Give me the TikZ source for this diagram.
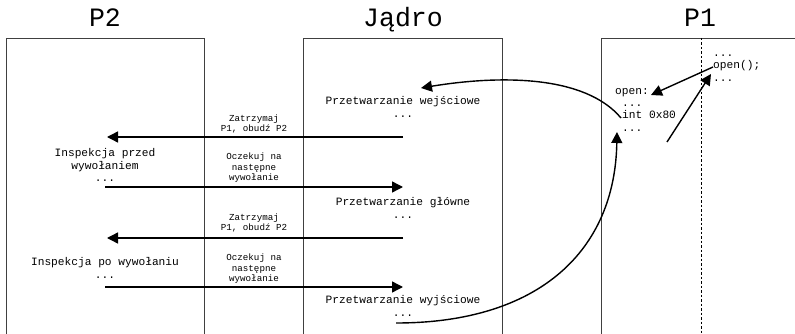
\documentclass[tikz,border=0pt]{standalone}
\usepackage{fontspec}
\setmonofont{Liberation Mono}
\usetikzlibrary{arrows.meta}

\begin{document}
\begin{tikzpicture}[x=1pt,y=-1pt]
  \tikzstyle{lane}=[draw=black!75, line width=0.9pt]
  \tikzstyle{title}=[font=\ttfamily\fontsize{26.5}{30}\selectfont, anchor=base, inner sep=0pt]
  \tikzstyle{code}=[font=\ttfamily\fontsize{11.2}{12.7}\selectfont, align=center, inner sep=0pt]
  \tikzstyle{note}=[font=\ttfamily\fontsize{9.2}{10.6}\selectfont, align=center, inner sep=0pt]
  \tikzstyle{flow}=[line width=1.4pt, -{Triangle[length=11pt,width=11pt]}]
  \useasboundingbox (0,0) rectangle (795,334);

  % columns
  \draw[lane] (6,334) -- (6,38) -- (204,38) -- (204,334);
  \draw[lane] (303,334) -- (303,38) -- (502,38) -- (502,334);
  \draw[lane] (601,334) -- (601,38) -- (795,38);
  \draw[black, line width=0.9pt, dash pattern=on 2.5pt off 2pt] (701,38) -- (701,334);

  \node[title] (tP2) at (105,27) {P2};
  \node[title] (tJadro) at (403,27) {Jądro};
  \node[title] (tP1) at (700,27) {P1};

  % P2
  \node[code] (przed) at (105,165) {Inspekcja przed\\wywołaniem\\...};
  \node[code] (po) at (105,268) {Inspekcja po wywołaniu\\...};

  % Jadro
  \node[code] (wej) at (403,107) {Przetwarzanie wejściowe\\...};
  \node[code] (glowne) at (403,208) {Przetwarzanie główne\\...};
  \node[code] (wyj) at (403,306) {Przetwarzanie wyjściowe\\...};

  % P1
  \node[code, align=left, anchor=west] (call) at (713,68) {...\\open();\\...};
  \node[code, anchor=west] (open) at (615,93) {open:};
  \node[code, align=left, anchor=west] (int) at (622,118) {...\\int 0x80\\...};

  % labels
  \node[note] (stopA) at (254,124) {Zatrzymaj\\P1, obudź P2};
  \node[note] (waitA) at (254,168) {Oczekuj na\\następne\\wywołanie};
  \node[note] (stopB) at (254,223) {Zatrzymaj\\P1, obudź P2};
  \node[note] (waitB) at (254,269) {Oczekuj na\\następne\\wywołanie};

  \coordinate (kA) at (403,137);
  \coordinate (uA) at (107,137);
  \coordinate (uB) at (105,187);
  \coordinate (kB) at (403,187);
  \coordinate (kC) at (403,238);
  \coordinate (uC) at (107,238);
  \coordinate (uD) at (105,287);
  \coordinate (kD) at (403,287);
  \draw[flow] (kA) -- (uA);
  \draw[flow] (uB) -- (kB);
  \draw[flow] (kC) -- (uC);
  \draw[flow] (uD) -- (kD);

  \coordinate (wejTip) at (421,88);
  \coordinate (retTip) at (617,132);
  \coordinate (retStart) at (396,323);
  \coordinate (libStart) at (667,142);
  \coordinate (callTip) at (711,74);
  \draw[flow] ([yshift=1pt]call.west) -- ([xshift=2pt,yshift=-2pt]open.east);
  \draw[flow] (libStart) -- (callTip);
  \draw[flow] ([xshift=-1pt]int.west) .. controls (585,75) and (500,75) .. (wejTip);
  \draw[flow] (retStart) .. controls (540,323) and (615,250) .. (retTip);
\end{tikzpicture}
\end{document}
